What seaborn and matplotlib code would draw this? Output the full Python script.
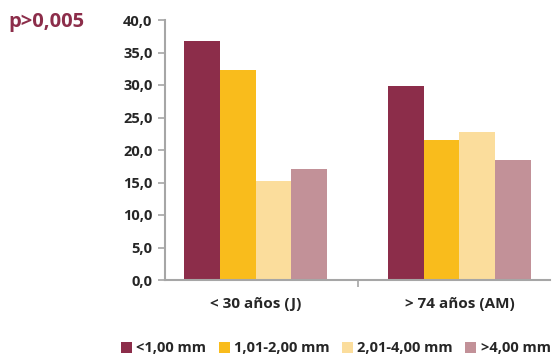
import matplotlib
matplotlib.use('Agg')
import matplotlib.pyplot as plt
import seaborn as sns
import pandas as pd

# data
groups = ['< 30 años (J)', '> 74 años (AM)']
sizes = ['<1,00 mm', '1,01-2,00 mm', '2,01-4,00 mm', '>4,00 mm']
young = [36.8, 32.3, 15.3, 17.1]
old = [29.9, 21.6, 22.7, 18.5]
colors = ['#8C2D4A', '#F9BC1C', '#FBDD9C', '#C29198']
yticks = [0, 5, 10, 15, 20, 25, 30, 35, 40]

df = pd.DataFrame({
    'grupo': [groups[0]] * 4 + [groups[1]] * 4,
    'tamano': sizes * 2,
    'valor': young + old,
})

sns.set_style('white')
plt.rcParams['font.family'] = ['Open Sans', 'DejaVu Sans']

fig = plt.figure(figsize=(5.55, 3.58), dpi=100)
ax = fig.add_axes([165 / 555, 1 - 280 / 358, 385 / 555, 260 / 358])

sns.barplot(data=df, x='grupo', y='valor', hue='tamano', hue_order=sizes,
            palette=colors, width=0.7, gap=0, saturation=1, ax=ax,
            edgecolor='none', linewidth=0, legend=True)

ax.set_xlim(-0.444, 1.444)
ax.set_ylim(0, 40)
ax.set_yticks(yticks)
ax.set_yticklabels([f'{v:.1f}'.replace('.', ',') for v in yticks],
                   fontsize=10.5, fontweight='bold')
ax.set_xticks([0, 1])
ax.set_xticklabels(groups, fontsize=11, fontweight='bold')
ax.set_xlabel('')
ax.set_ylabel('')

# gray spines with outward ticks, minor tick between the groups
for side in ['top', 'right']:
    ax.spines[side].set_visible(False)
for side in ['left', 'bottom']:
    ax.spines[side].set_color('#A6A6A6')
    ax.spines[side].set_linewidth(1.5)
ax.tick_params(axis='y', length=5, width=1.2, color='#A6A6A6', direction='out',
               left=True, pad=4)
ax.tick_params(axis='x', length=0, pad=12)
ax.set_xticks([0.5], minor=True)
ax.tick_params(axis='x', which='minor', length=5, width=1.2, color='#A6A6A6',
               direction='out', bottom=True)

ax.legend(loc='lower center', bbox_to_anchor=(0.444, -0.34), ncol=4, frameon=False,
          handlelength=0.75, handleheight=0.75, handletextpad=0.3,
          columnspacing=0.85, prop={'weight': 'bold', 'size': 10.5})

fig.text(8 / 555, 1 - 22 / 358, 'p>0,005', color='#8C2D4A', fontsize=14.5,
         fontweight='bold', va='center', ha='left')

fig.savefig('out.png', dpi=100)
